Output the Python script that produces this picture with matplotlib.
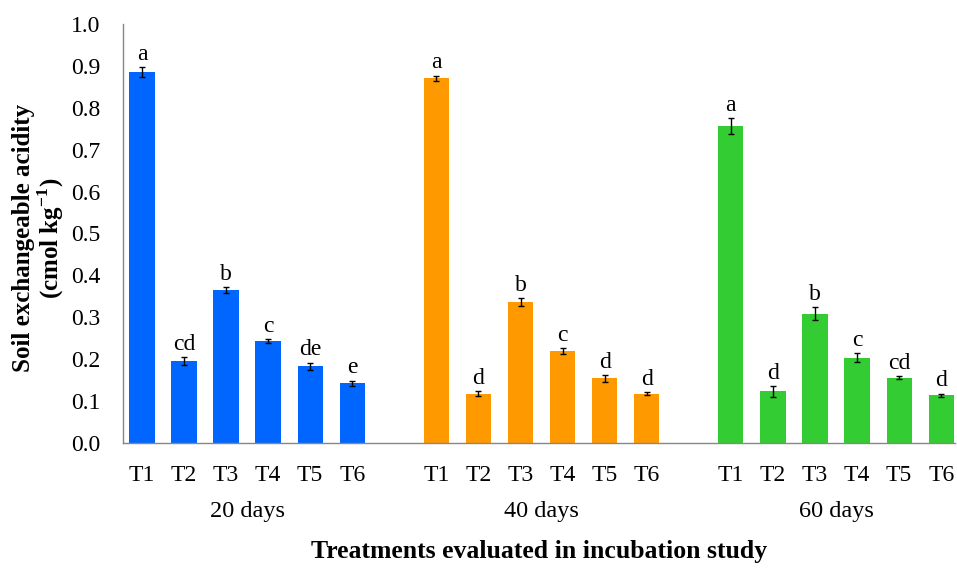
import numpy as np
import matplotlib.pyplot as plt

plt.rcParams['font.family'] = ['Liberation Serif', 'DejaVu Serif']
plt.rcParams['mathtext.fontset'] = 'custom'
plt.rcParams['mathtext.rm'] = 'Liberation Serif'
plt.rcParams['mathtext.bf'] = 'Liberation Serif:bold'

# treatments and incubation periods
treatments = ['T1', 'T2', 'T3', 'T4', 'T5', 'T6']
periods = ['20 days', '40 days', '60 days']
colors = ['#0066FF', '#FF9900', '#33CC33']

# exchangeable acidity (cmol/kg) per period
acid_20 = [0.885, 0.195, 0.365, 0.243, 0.183, 0.143]
acid_40 = [0.870, 0.118, 0.336, 0.219, 0.154, 0.118]
acid_60 = [0.756, 0.123, 0.309, 0.204, 0.156, 0.114]

# standard errors
err_20 = [0.011, 0.010, 0.007, 0.005, 0.008, 0.006]
err_40 = [0.006, 0.005, 0.009, 0.007, 0.008, 0.003]
err_60 = [0.019, 0.012, 0.015, 0.010, 0.003, 0.003]

# significance letters
let_20 = ['a', 'cd', 'b', 'c', 'de', 'e']
let_40 = ['a', 'd', 'b', 'c', 'd', 'd']
let_60 = ['a', 'd', 'b', 'c', 'cd', 'd']

values = [acid_20, acid_40, acid_60]
errors = [err_20, err_40, err_60]
letters = [let_20, let_40, let_60]

fig = plt.figure(figsize=(9.57, 5.68), dpi=100)
ax = fig.add_axes([0.1285, 0.22, 0.8695, 0.738])

n = len(treatments)
all_x = []
all_lab = []
for g in range(len(periods)):
    x = np.arange(n) + g * (n + 1)
    ax.bar(x, values[g], width=0.6, color=colors[g], zorder=2)
    ax.errorbar(x, values[g], yerr=errors[g], fmt='none', ecolor='black',
                elinewidth=1.0, capsize=2.5, capthick=1.0, zorder=3)
    for xi, v, e, s in zip(x, values[g], errors[g], letters[g]):
        ax.text(xi, v + e + 0.006, s, ha='center', va='bottom', fontsize=17)
    ax.text(x.mean(), -0.163, periods[g], ha='center', va='center',
            fontsize=17.5)
    all_x.extend(x)
    all_lab.extend(treatments)

ax.set_xticks(all_x)
ax.set_xticklabels(all_lab, fontsize=17)
ax.tick_params(axis='x', length=0, pad=16)
ax.tick_params(axis='y', length=0, pad=16, labelsize=17)
ax.set_xlim(-0.45, 19.33)
ax.set_ylim(0, 1.0)
ax.set_yticks(np.arange(0, 1.01, 0.1))
ax.set_yticklabels([f'{t:.1f}' for t in np.arange(0, 1.01, 0.1)])

for side in ['top', 'right']:
    ax.spines[side].set_visible(False)
for side in ['left', 'bottom']:
    ax.spines[side].set_color('#868686')
    ax.spines[side].set_linewidth(1.0)

fig.text(0.041, 0.581, 'Soil exchangeable acidity\n(cmol kg$^{\\mathbf{-1}}$)',
         rotation=90, ha='center', va='center', multialignment='center',
         fontsize=18, fontweight='bold', linespacing=1.0)
fig.text(0.563, 0.029, 'Treatments evaluated in incubation study',
         ha='center', va='center', fontsize=18.5, fontweight='bold')

fig.savefig('out.png', dpi=100)
